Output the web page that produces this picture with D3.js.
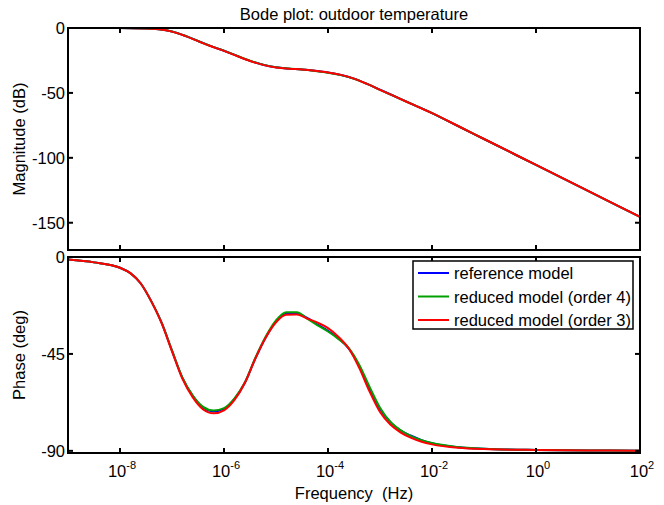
<!DOCTYPE html>
<html>
<head>
<meta charset="utf-8">
<script src="https://cdn.jsdelivr.net/npm/d3@7"></script>
<style>
  body { margin: 0; background: #fff; }
  svg { font-family: "Liberation Sans", Arial, sans-serif; }
  text { white-space: pre; }
</style>
</head>
<body>
<svg id="chart" width="664" height="505"></svg>
<script>
// frequency grid for magnitude (Hz)
let magFreq = [1e-9, 1e-8, 3.16e-8, 5.62e-8, 1e-7, 1.78e-7, 3.16e-7, 5.62e-7, 1e-6, 1.78e-6,
  3.16e-6, 5.62e-6, 1e-5, 1.78e-5, 3.16e-5, 5.62e-5, 1e-4, 1.78e-4, 3.16e-4, 5.62e-4,
  1e-3, 1.78e-3, 3.16e-3, 5.62e-3, 1e-2, 3.16e-2, 1e-1, 1, 10, 100];

let magRef  = [0, 0, -0.3, -1.0, -2.7, -6, -10, -14, -17.5, -21.5,
  -25.3, -28.3, -30.3, -31.3, -32, -33, -34.3, -36.2, -39, -43,
  -47.5, -52, -56.5, -61, -65.5, -75.5, -85.5, -105.5, -125.5, -145.5];
let magOrd4 = [0, 0, -0.3, -1.0, -2.7, -6, -10, -14, -17.4, -21.4,
  -25.2, -28.2, -30.2, -31.2, -32, -33.1, -34.4, -36.3, -39.1, -43.1,
  -47.6, -52.1, -56.6, -61, -65.5, -75.5, -85.5, -105.5, -125.5, -145.5];
let magOrd3 = [0, 0, -0.3, -1.0, -2.8, -6.1, -10.1, -14.1, -17.6, -21.6,
  -25.4, -28.4, -30.4, -31.3, -31.9, -32.9, -34.2, -36.1, -39, -43.1,
  -47.6, -52.1, -56.6, -61.1, -65.6, -75.5, -85.5, -105.5, -125.5, -145.5];

// frequency grid for phase (Hz)
let phaseFreq = [1e-9, 3.16e-9, 1e-8, 1.58e-8, 2.51e-8, 3.98e-8, 6.31e-8, 1e-7, 1.58e-7, 2.51e-7,
  3.98e-7, 6.31e-7, 1e-6, 1.58e-6, 2.51e-6, 3.98e-6, 6.31e-6, 1e-5, 1.58e-5, 2.51e-5,
  3.98e-5, 6.31e-5, 1e-4, 1.58e-4, 2.51e-4, 3.98e-4, 6.31e-4, 1e-3, 1.58e-3, 2.51e-3,
  3.98e-3, 6.31e-3, 1e-2, 3.16e-2, 1e-1, 1, 10, 100];

let phaseRef = [-1.2, -2.5, -5, -7.5, -12.3, -20.5, -30.5, -43.5, -56, -64.5,
  -70, -71.7, -70.5, -66, -58.5, -47.3, -37.5, -30, -26.3, -26.2,
  -28.3, -31.4, -34.3, -37.8, -42.5, -50.5, -61.5, -70.5, -76.7, -80.6,
  -83, -85, -86.5, -88.3, -89, -89.6, -89.8, -89.9];
let phaseOrd4 = [-1.2, -2.5, -5, -7.5, -12.3, -20.5, -30.5, -43.4, -55.9, -64.3,
  -69.6, -71.3, -70.2, -65.8, -58.3, -47, -37, -29.4, -25.6, -25.6,
  -28.6, -31.7, -34.6, -38, -42.3, -50, -60.3, -70, -76.5, -80.5,
  -83.2, -85, -86.4, -88.2, -89, -89.6, -89.8, -89.9];
let phaseOrd3 = [-1.2, -2.5, -5, -7.5, -12.3, -20.5, -30.7, -43.8, -56.5, -65.2,
  -70.8, -72.6, -71.2, -66.5, -58.5, -47.3, -37.5, -30.3, -26.8, -26.7,
  -28.6, -30.5, -33, -37, -42.5, -51.5, -62.5, -72, -77.8, -81.5,
  -84, -85.8, -87, -88.6, -89.2, -89.6, -89.8, -89.9];

let seriesNames = ['reference model', 'reduced model (order 4)', 'reduced model (order 3)'];
let seriesColors = ['#0000ff', '#00a000', '#ff0000'];

let xTicks = [1e-8, 1e-6, 1e-4, 1e-2, 1, 100];
let xTickExp = ['-8', '-6', '-4', '-2', '0', '2'];
let magTicks = [0, -50, -100, -150];
let phaseTicks = [0, -45, -90];

let svg = d3.select('#chart');

let left = 68;
let right = 640;
let magTop = 28, magBottom = 250;
let phTop = 257, phBottom = 453;
let fs = 16.5;

let x = d3.scaleLog().domain([1e-9, 100]).range([left, right]);
let yMag = d3.scaleLinear().domain([-171, 0]).range([magBottom, magTop]);
let yPh = d3.scaleLinear().domain([-91, 0]).range([phBottom, phTop]);

function drawPanel(y, top, bottom, yTicks, freq, seriesList, showXLabels) {
	let g = svg.append('g');
	let clipId = 'clip' + top;
	svg.append('clipPath').attr('id', clipId)
		.append('rect')
		.attr('x', left).attr('y', top)
		.attr('width', right - left).attr('height', bottom - top);

	// curves
	seriesList.forEach(function(vals, i) {
		let line = d3.line()
			.x((d, j) => x(freq[j]))
			.y(d => y(d))
			.curve(d3.curveMonotoneX);
		g.append('path')
			.datum(vals)
			.attr('clip-path', `url(#${clipId})`)
			.attr('fill', 'none')
			.attr('stroke', seriesColors[i])
			.attr('stroke-width', 2)
			.attr('d', line);
	});

	// frame
	g.append('rect')
		.attr('x', left).attr('y', top)
		.attr('width', right - left).attr('height', bottom - top)
		.attr('fill', 'none')
		.attr('stroke', '#000')
		.attr('stroke-width', 2);

	// x ticks, inward on both sides
	xTicks.forEach(function(t, i) {
		g.append('line')
			.attr('x1', x(t)).attr('x2', x(t))
			.attr('y1', bottom).attr('y2', bottom - 5)
			.attr('stroke', '#000').attr('stroke-width', 2);
		g.append('line')
			.attr('x1', x(t)).attr('x2', x(t))
			.attr('y1', top).attr('y2', top + 5)
			.attr('stroke', '#000').attr('stroke-width', 2);
		if (showXLabels) {
			let lbl = g.append('text')
				.attr('x', x(t) + 2)
				.attr('y', bottom + 24)
				.attr('text-anchor', 'middle')
				.attr('font-size', fs);
			lbl.append('tspan').text('10');
			lbl.append('tspan')
				.attr('dy', -8)
				.attr('font-size', 11)
				.text(xTickExp[i]);
		}
	});

	// y ticks, inward on both sides
	yTicks.forEach(function(t) {
		g.append('line')
			.attr('x1', left).attr('x2', left + 5)
			.attr('y1', y(t)).attr('y2', y(t))
			.attr('stroke', '#000').attr('stroke-width', 2);
		g.append('line')
			.attr('x1', right).attr('x2', right - 5)
			.attr('y1', y(t)).attr('y2', y(t))
			.attr('stroke', '#000').attr('stroke-width', 2);
		g.append('text')
			.attr('x', left - 3)
			.attr('y', y(t) + 6)
			.attr('text-anchor', 'end')
			.attr('font-size', fs)
			.text(t);
	});
	return g;
}

drawPanel(yMag, magTop, magBottom, magTicks, magFreq, [magRef, magOrd4, magOrd3], false);
drawPanel(yPh, phTop, phBottom, phaseTicks, phaseFreq, [phaseRef, phaseOrd4, phaseOrd3], true);

// titles and axis labels
svg.append('text')
	.attr('x', (left + right) / 2).attr('y', 20)
	.attr('text-anchor', 'middle').attr('font-size', fs)
	.text('Bode plot: outdoor temperature');

svg.append('text')
	.attr('transform', `translate(25, ${(magTop + magBottom) / 2}) rotate(-90)`)
	.attr('text-anchor', 'middle').attr('font-size', fs)
	.text('Magnitude (dB)');

svg.append('text')
	.attr('transform', `translate(25, ${(phTop + phBottom) / 2}) rotate(-90)`)
	.attr('text-anchor', 'middle').attr('font-size', fs)
	.text('Phase (deg)');

svg.append('text')
	.attr('x', (left + right) / 2).attr('y', 499)
	.attr('text-anchor', 'middle').attr('font-size', fs)
	.text('Frequency  (Hz)');

// legend
let legend = svg.append('g');
legend.append('rect')
	.attr('x', 413).attr('y', 261)
	.attr('width', 220).attr('height', 68)
	.attr('fill', '#fff')
	.attr('stroke', '#000')
	.attr('stroke-width', 1.5);

seriesNames.forEach(function(name, i) {
	let ly = 273 + i * 23.5;
	legend.append('line')
		.attr('x1', 418).attr('x2', 449)
		.attr('y1', ly).attr('y2', ly)
		.attr('stroke', seriesColors[i])
		.attr('stroke-width', 2);
	legend.append('text')
		.attr('x', 454).attr('y', ly + 6)
		.attr('font-size', fs)
		.text(name);
});
</script>
</body>
</html>
